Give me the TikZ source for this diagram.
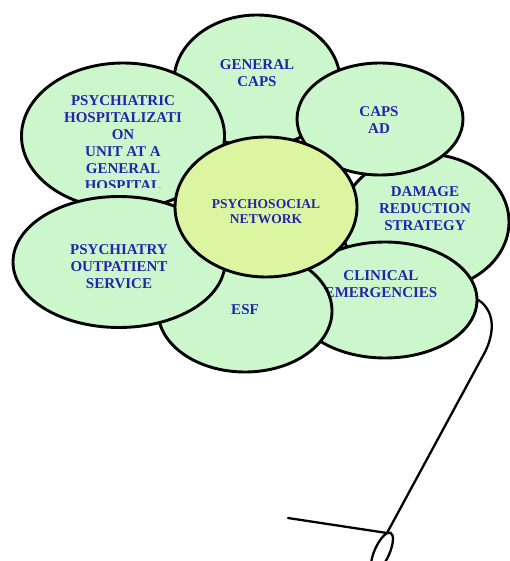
\documentclass[tikz,border=0pt]{standalone}
\usepackage{fontspec}
\setmainfont{Liberation Serif}
\usetikzlibrary{shapes.geometric}
\definecolor{petalgreen}{HTML}{CCF7CC}
\definecolor{hubgreen}{HTML}{DCF5A0}
\definecolor{labelblue}{HTML}{2424AC}
\begin{document}
\begin{tikzpicture}[x=1pt,y=-1pt,
  petal/.style={ellipse,draw,line width=2.9pt,fill=petalgreen,inner sep=0pt},
  lbl/.style={font=\bfseries\fontsize{15}{17}\selectfont,text=labelblue,align=center,inner sep=0pt},
  stem/.style={line width=2.3pt,line cap=round}]
\useasboundingbox (0,0) rectangle (509,561);
% petals, back to front
\node[petal,minimum width=166pt,minimum height=132pt] (gencaps) at (257,81) {};
\node[lbl] at (257,73) {GENERAL\\CAPS};
\node[petal,minimum width=203pt,minimum height=146pt] (hosp) at (123,136) {};
\begin{scope}
\clip (0,0) rectangle (509,188);
\node[lbl] at (123,143) {PSYCHIATRIC\\HOSPITALIZATI\\ON\\UNIT AT A\\GENERAL\\HOSPITAL};
\end{scope}
\node[petal,minimum width=168pt,minimum height=136pt] (damage) at (425,222) {};
\node[lbl] at (425,209) {DAMAGE\\REDUCTION\\STRATEGY};
\node[petal,minimum width=166pt,minimum height=112pt] (capsad) at (380,119) {};
\node[lbl] at (379,120) {CAPS\\AD};
\node[petal,minimum width=184pt,minimum height=116pt] (clinical) at (385,300) {};
\node[lbl] at (381,284) {CLINICAL\\EMERGENCIES};
\node[petal,minimum width=174pt,minimum height=122pt] (esf) at (245,311) {};
\node[lbl] at (245,310) {ESF};
\node[petal,minimum width=212pt,minimum height=131pt] (outpat) at (119,262) {};
\node[lbl] at (119,267) {PSYCHIATRY\\OUTPATIENT\\SERVICE};
% centre
\node[petal,fill=hubgreen,minimum width=182pt,minimum height=140pt] (psynet) at (266,207) {};
\node[lbl,font=\bfseries\fontsize{13.5}{15}\selectfont] at (266,212) {PSYCHOSOCIAL\\NETWORK};
% stem
\coordinate (knot) at (382,552);
\coordinate (twig) at (288,518);
\draw[stem] (clinical.east) .. controls (496,312) and (494,334) .. (485,352) -- (387,533);
\draw[stem] (twig) -- (387,533);
\draw[stem,rotate around={-24:(knot)}] (knot) ellipse (7.5pt and 21pt);
\end{tikzpicture}
\end{document}
